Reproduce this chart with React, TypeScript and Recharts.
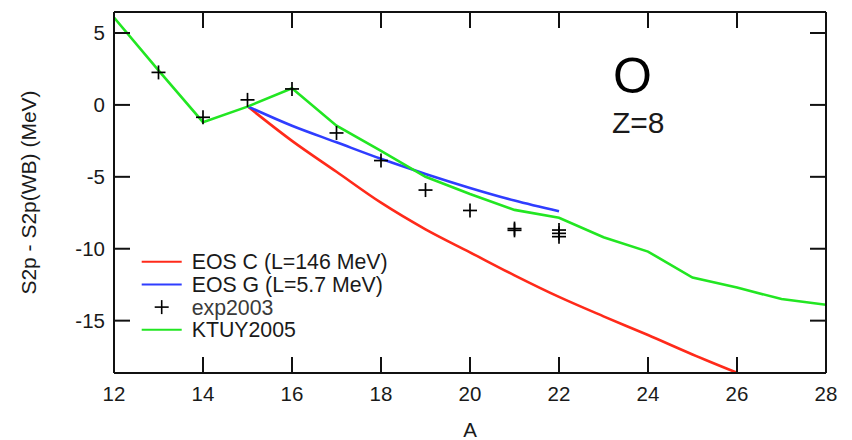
import React from 'react';
import { ComposedChart, Line, Scatter, XAxis, YAxis, Legend, ReferenceDot } from 'recharts';

// ---- data ----
const X_TICKS = [12, 14, 16, 18, 20, 22, 24, 26, 28];
const Y_TICKS = [-15, -10, -5, 0, 5];

const KTUY_A = [12, 13, 14, 15, 16, 17, 18, 19, 20, 21, 22, 23, 24, 25, 26, 27, 28];
const KTUY = [6.08, 2.4, -1.2, -0.12, 1.15, -1.44, -3.2, -5.0, -6.2, -7.3, -7.85, -9.2, -10.2, -12.0, -12.7, -13.5, -13.9];

const EOSC_A = [15, 16, 17, 18, 19, 20, 21, 22, 23, 24, 25, 26];
const EOSC = [-0.1, -2.5, -4.65, -6.8, -8.65, -10.25, -11.85, -13.35, -14.7, -16.0, -17.35, -18.62];

const EOSG_A = [15, 16, 17, 18, 19, 20, 21, 22];
const EOSG = [-0.1, -1.45, -2.6, -3.75, -4.8, -5.77, -6.65, -7.4];

const EXP_A = [13, 14, 15, 16, 17, 18, 19, 20, 21, 21, 22, 22, 22];
const EXP = [2.26, -0.86, 0.35, 1.11, -1.95, -3.87, -5.92, -7.34, -8.6, -8.72, -8.7, -8.93, -9.16];

const LEGEND_LABELS = ['EOS C (L=146 MeV)', 'EOS G (L=5.7 MeV)', 'exp2003', 'KTUY2005'];
const X_TITLE = 'A';
const Y_TITLE = 'S2p - S2p(WB) (MeV)';
const NUCLEUS = 'O';
const Z_LABEL = 'Z=8';

const COLORS = { red: '#ff2a1a', blue: '#2f3dff', green: '#22e622', axis: '#111111', text: '#1a1a1a' };
const FONT = '"Liberation Sans", Arial, Helvetica, sans-serif';

const toPoints = (xs: number[], ys: number[]) => xs.map((a, i) => ({ A: a, v: ys[i] }));
const ktuyData = toPoints(KTUY_A, KTUY);
const eoscData = toPoints(EOSC_A, EOSC);
const eosgData = toPoints(EOSG_A, EOSG);
const expData = toPoints(EXP_A, EXP);

const PlusShape = (props: any) => {
  const { cx, cy } = props;
  if (cx == null || cy == null) return null;
  return (
    <g stroke="#000" strokeWidth={1.7}>
      <line x1={cx - 7} y1={cy} x2={cx + 7} y2={cy} />
      <line x1={cx} y1={cy - 7} x2={cx} y2={cy + 7} />
    </g>
  );
};

const LegendContent = () => {
  const colors = [COLORS.red, COLORS.blue, null, COLORS.green];
  return (
    <svg width={280} height={100} style={{ fontFamily: FONT, overflow: 'visible' }}>
      {LEGEND_LABELS.map((lab, i) => {
        const y = 16.7 + i * 22.7;
        const c = colors[i];
        return (
          <g key={lab}>
            {c ? (
              <line x1={11.7} y1={y} x2={51.7} y2={y} stroke={c} strokeWidth={2} />
            ) : (
              <g stroke="#000" strokeWidth={1.6}>
                <line x1={24.7} y1={y} x2={38.7} y2={y} />
                <line x1={31.7} y1={y - 7} x2={31.7} y2={y + 7} />
              </g>
            )}
            <text x={61.7} y={y + 7.6} fontSize={21.3} fill={i === 2 ? '#3a3a3a' : COLORS.text}>
              {lab}
            </text>
          </g>
        );
      })}
    </svg>
  );
};

const tickStyle = { fontSize: 20.5, fill: COLORS.text, fontFamily: FONT };

export default function App() {
  return (
    <div style={{ position: 'absolute', left: 0, top: 0, background: '#fff' }}>
      <ComposedChart
        width={852}
        height={440}
        margin={{ top: 0, right: 0, bottom: 0, left: 0 }}
        style={{ fontFamily: FONT }}
      >
        <XAxis
          xAxisId="b"
          dataKey="A"
          type="number"
          orientation="bottom"
          domain={[12, 28]}
          ticks={X_TICKS}
          allowDataOverflow
          height={67}
          tickSize={-16}
          tickMargin={29}
          axisLine={{ stroke: COLORS.axis, strokeWidth: 2 }}
          tickLine={{ stroke: COLORS.axis, strokeWidth: 2 }}
          tick={tickStyle}
          label={{ value: X_TITLE, position: 'insideBottom', offset: 3, fontSize: 20.5, fill: COLORS.text }}
        />
        <XAxis
          xAxisId="t"
          dataKey="A"
          type="number"
          orientation="top"
          domain={[12, 28]}
          ticks={X_TICKS}
          allowDataOverflow
          height={12}
          tickSize={-16}
          tickFormatter={() => ''}
          axisLine={{ stroke: COLORS.axis, strokeWidth: 2 }}
          tickLine={{ stroke: COLORS.axis, strokeWidth: 2 }}
        />
        <YAxis
          yAxisId="l"
          dataKey="v"
          type="number"
          orientation="left"
          domain={[-18.64, 6.46]}
          ticks={Y_TICKS}
          allowDataOverflow
          width={114}
          tickSize={-16}
          tickMargin={25}
          axisLine={{ stroke: COLORS.axis, strokeWidth: 2 }}
          tickLine={{ stroke: COLORS.axis, strokeWidth: 2 }}
          tick={tickStyle}
          label={{ value: Y_TITLE, angle: -90, position: 'insideLeft', offset: 29, fontSize: 21, fill: COLORS.text, style: { textAnchor: 'middle' } }}
        />
        <YAxis
          yAxisId="r"
          dataKey="v"
          type="number"
          orientation="right"
          domain={[-18.64, 6.46]}
          ticks={Y_TICKS}
          allowDataOverflow
          width={26}
          tickSize={-16}
          tickFormatter={() => ''}
          axisLine={{ stroke: COLORS.axis, strokeWidth: 2 }}
          tickLine={{ stroke: COLORS.axis, strokeWidth: 2 }}
        />
        <Line
          xAxisId="b"
          yAxisId="l"
          data={eoscData}
          dataKey="v"
          type="monotone"
          stroke={COLORS.red}
          strokeWidth={2.6}
          dot={false}
          isAnimationActive={false}
          name={LEGEND_LABELS[0]}
        />
        <Line
          xAxisId="b"
          yAxisId="l"
          data={eosgData}
          dataKey="v"
          type="monotone"
          stroke={COLORS.blue}
          strokeWidth={2.6}
          dot={false}
          isAnimationActive={false}
          name={LEGEND_LABELS[1]}
        />
        <Line
          xAxisId="b"
          yAxisId="l"
          data={ktuyData}
          dataKey="v"
          type="linear"
          stroke={COLORS.green}
          strokeWidth={2.6}
          dot={false}
          isAnimationActive={false}
          name={LEGEND_LABELS[3]}
        />
        <Scatter
          xAxisId="b"
          yAxisId="l"
          data={expData}
          dataKey="v"
          shape={PlusShape}
          isAnimationActive={false}
          name={LEGEND_LABELS[2]}
        />
        <ReferenceDot
          xAxisId="b"
          yAxisId="l"
          x={23.65}
          y={0.8}
          r={0}
          shape={(p: any) => (
            <text x={p.cx} y={p.cy} textAnchor="middle" fontSize={50} fill="#000" fontFamily={FONT}>
              {NUCLEUS}
            </text>
          )}
        />
        <ReferenceDot
          xAxisId="b"
          yAxisId="l"
          x={23.78}
          y={-1.92}
          r={0}
          shape={(p: any) => (
            <text x={p.cx} y={p.cy} textAnchor="middle" fontSize={30} fill={COLORS.text} fontFamily={FONT}>
              {Z_LABEL}
            </text>
          )}
        />
        <Legend
          layout="vertical"
          align="center"
          verticalAlign="middle"
          wrapperStyle={{ left: 130, top: 245, width: 280, height: 100 }}
          content={LegendContent}
        />
      </ComposedChart>
    </div>
  );
}
